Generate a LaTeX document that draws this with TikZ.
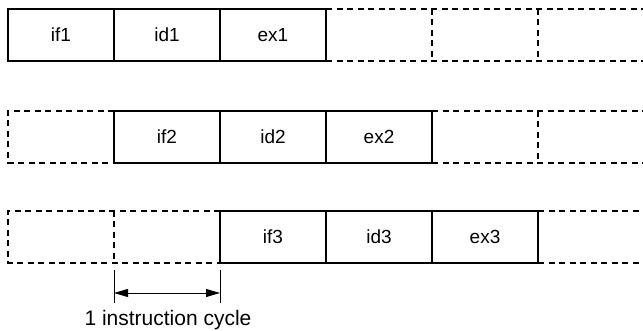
\documentclass[tikz,border=0pt]{standalone}
\usepackage{fontspec}
\setmainfont{Liberation Sans}
\usetikzlibrary{arrows.meta}
\begin{document}
\begin{tikzpicture}[x=1pt,y=-1pt,
  cell/.style={rectangle,minimum width=106pt,minimum height=52pt,inner sep=0pt,outer sep=0pt,font=\fontsize{19}{22}\selectfont},
  solidcell/.style={cell,draw,line width=1.3pt},
  emptycell/.style={cell},
  dashline/.style={line width=1.3pt,dash pattern=on 6pt off 4.5pt},
  tick/.style={line width=0.9pt},
  dimarrow/.style={line width=0.9pt,{Triangle[length=14pt,width=8pt]}-{Triangle[length=14pt,width=8pt]}}]
\useasboundingbox (0,0) rectangle (643,331);
% row 1
\node[emptycell] (r1c4) at (379,35) {};
\node[emptycell] (r1c5) at (485,35) {};
\node[emptycell] (r1c6) at (591,35) {};
\draw[dashline] (r1c4.north west) -- (r1c6.north east);
\draw[dashline] (r1c4.south west) -- (r1c6.south east);
\draw[dashline] (r1c5.north west) -- (r1c5.south west);
\draw[dashline] (r1c6.north west) -- (r1c6.south west);
\node[solidcell] (if1) at (61,35) {if1};
\node[solidcell] (id1) at (167,35) {id1};
\node[solidcell] (ex1) at (273,35) {ex1};
% row 2
\node[emptycell] (r2c1) at (61,137) {};
\node[emptycell] (r2c5) at (485,137) {};
\node[emptycell] (r2c6) at (591,137) {};
\draw[dashline] (r2c1.north east) -- (r2c1.north west) -- (r2c1.south west) -- (r2c1.south east);
\draw[dashline] (r2c5.north west) -- (r2c6.north east);
\draw[dashline] (r2c5.south west) -- (r2c6.south east);
\draw[dashline] (r2c6.north west) -- (r2c6.south west);
\node[solidcell] (if2) at (167,137) {if2};
\node[solidcell] (id2) at (273,137) {id2};
\node[solidcell] (ex2) at (379,137) {ex2};
% row 3
\node[emptycell] (r3c1) at (61,237) {};
\node[emptycell] (r3c2) at (167,237) {};
\node[emptycell] (r3c6) at (591,237) {};
\draw[dashline] (r3c2.north east) -- (r3c1.north west) -- (r3c1.south west) -- (r3c2.south east);
\draw[dashline] (r3c2.north west) -- (r3c2.south west);
\draw[dashline] (r3c6.north west) -- (r3c6.north east);
\draw[dashline] (r3c6.south west) -- (r3c6.south east);
\node[solidcell] (if3) at (273,237) {if3};
\node[solidcell] (id3) at (379,237) {id3};
\node[solidcell] (ex3) at (485,237) {ex3};
% dimension
\coordinate (ta1) at (114,270);
\coordinate (tb1) at (114,303);
\coordinate (ta2) at (220,270);
\coordinate (tb2) at (220,303);
\coordinate (a1) at (114,293);
\coordinate (a2) at (220,293);
\draw[tick] (ta1) -- (tb1);
\draw[tick] (ta2) -- (tb2);
\draw[dimarrow] (a1) -- (a2);
\node[font=\fontsize{21}{24}\selectfont] (label) at (168,320) {1 instruction cycle};
\end{tikzpicture}
\end{document}
